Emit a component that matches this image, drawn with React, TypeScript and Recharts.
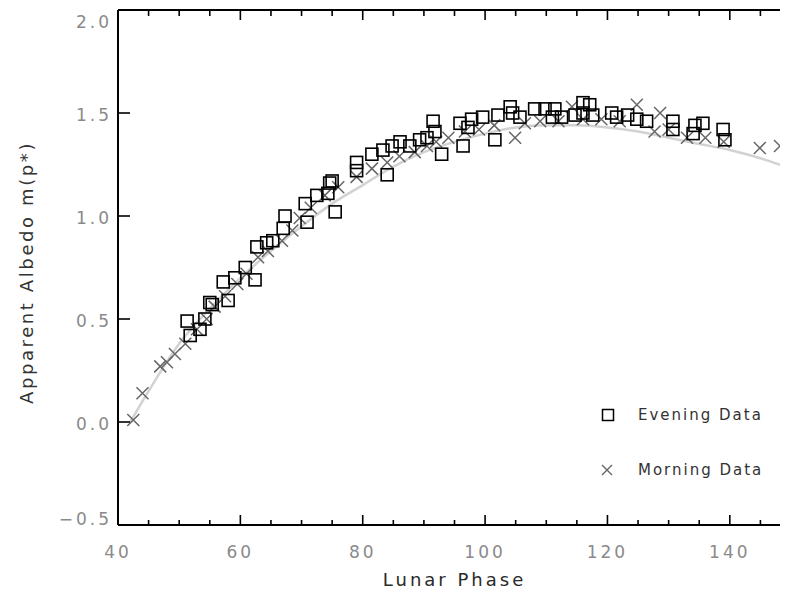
import React from 'react';
import { ComposedChart, Scatter, Line, XAxis, YAxis, Legend } from 'recharts';

const eveningPhase = [
  51.3, 51.8, 53.4, 54.2, 55.0, 55.4, 57.2, 58.0, 59.1, 60.8, 62.4, 62.7, 64.3, 65.3, 67.0, 67.3,
  70.6, 70.9, 72.5, 74.3, 74.6, 75.5, 75.0, 79.0, 79.0, 81.5, 83.3, 84.0, 84.8, 86.1, 87.7, 89.3,
  90.5, 91.5, 91.8, 92.9, 95.9, 96.4, 97.2, 97.8, 99.6, 101.6, 102.1, 104.1, 104.5, 105.7, 108.1,
  109.8, 111.4, 111.0, 112.5, 114.7, 116.0, 117.1, 116.0, 117.6, 120.7, 121.5, 123.3, 124.8, 126.4,
  130.7, 130.7, 134.0, 134.3, 135.6, 138.9, 139.2,
];
const eveningAlbedo = [
  0.49, 0.42, 0.45, 0.50, 0.58, 0.57, 0.68, 0.59, 0.70, 0.75, 0.69, 0.85, 0.87, 0.88, 0.94, 1.00,
  1.06, 0.97, 1.10, 1.11, 1.16, 1.02, 1.17, 1.26, 1.22, 1.30, 1.32, 1.20, 1.34, 1.36, 1.34, 1.37,
  1.38, 1.46, 1.41, 1.30, 1.45, 1.34, 1.43, 1.47, 1.48, 1.37, 1.49, 1.53, 1.50, 1.48, 1.52,
  1.52, 1.52, 1.48, 1.48, 1.49, 1.55, 1.54, 1.50, 1.49, 1.50, 1.48, 1.49, 1.47, 1.46,
  1.46, 1.42, 1.40, 1.44, 1.45, 1.42, 1.37,
];

const morningPhase = [
  42.5, 44.0, 46.9, 48.0, 49.3, 51.0, 52.9, 54.5, 55.8, 57.5, 59.5, 61.0, 62.9, 64.5, 66.8, 68.5,
  69.7, 71.5, 73.8, 76.0, 79.0, 81.5, 84.0, 86.0, 88.5, 90.5, 92.0, 94.0, 96.7, 99.0, 101.5, 104.9,
  106.5, 109.0, 112.0, 114.2, 116.0, 119.0, 122.0, 124.8, 127.7, 128.6, 130.0, 133.0, 136.0, 139.0,
  144.9, 148.2,
];
const morningAlbedo = [
  0.01, 0.14, 0.27, 0.29, 0.33, 0.38, 0.45, 0.50, 0.56, 0.61, 0.67, 0.72, 0.80, 0.83, 0.88, 0.93,
  0.99, 1.04, 1.10, 1.14, 1.19, 1.23, 1.26, 1.29, 1.31, 1.34, 1.36, 1.38, 1.41, 1.42, 1.44, 1.38,
  1.45, 1.46, 1.46, 1.53, 1.47, 1.47, 1.46, 1.54, 1.41, 1.50, 1.42, 1.38, 1.38, 1.36,
  1.33, 1.34,
];

const fitPhase = [42, 45, 50, 55, 60, 65, 70, 75, 80, 85, 90, 95, 100, 105, 110, 115, 120, 125, 130, 135, 140, 145, 150];
const fitAlbedo = [0.0, 0.15, 0.38, 0.55, 0.7, 0.83, 0.95, 1.06, 1.15, 1.24, 1.31, 1.36, 1.4, 1.43, 1.44, 1.44, 1.43, 1.41, 1.38, 1.35, 1.32, 1.28, 1.23];

const xTicks = [40, 45, 50, 55, 60, 65, 70, 75, 80, 85, 90, 95, 100, 105, 110, 115, 120, 125, 130, 135, 140, 145, 150];
const xMajorStep = 20;
const yTicks = [-0.5, 0, 0.5, 1.0, 1.5, 2.0];
const legendLabels = ['Evening Data', 'Morning Data'];
const xTitle = 'Lunar Phase';
const yTitle = 'Apparent Albedo m(p*)';

const evening = eveningPhase.map((x, i) => ({ x, y: eveningAlbedo[i] }));
const morning = morningPhase.map((x, i) => ({ x, y: morningAlbedo[i] }));
const fit = fitPhase.map((x, i) => ({ x, y: fitAlbedo[i] }));

const FONT = "'DejaVu Sans', sans-serif";
const TICK_COLOR = '#8a8a8a';

const SquareShape = (props: any) => {
  const { cx, cy } = props;
  if (cx == null || cy == null) return null;
  const s = 12;
  return <rect x={cx - s / 2} y={cy - s / 2} width={s} height={s} fill="none" stroke="#000" strokeWidth={1.6} />;
};

const CrossShape = (props: any) => {
  const { cx, cy } = props;
  if (cx == null || cy == null) return null;
  const h = 6;
  return (
    <path
      d={`M${cx - h},${cy - h}L${cx + h},${cy + h}M${cx + h},${cy - h}L${cx - h},${cy + h}`}
      stroke="#666"
      strokeWidth={1.5}
      fill="none"
    />
  );
};

const BottomTick = (props: any) => {
  const { x, y, payload } = props;
  const major = payload.value % xMajorStep === 0;
  return (
    <g>
      <line x1={x} x2={x} y1={y} y2={y - (major ? 10 : 5)} stroke="#000" strokeWidth={1.6} />
      {major && (
        <text x={x} y={y + 33} textAnchor="middle" fill={TICK_COLOR} fontSize={17} fontFamily={FONT} letterSpacing={3}>
          {payload.value}
        </text>
      )}
    </g>
  );
};

const TopTick = (props: any) => {
  const { x, y, payload } = props;
  const major = payload.value % xMajorStep === 0;
  return <line x1={x} x2={x} y1={y} y2={y + (major ? 10 : 6)} stroke="#000" strokeWidth={1.6} />;
};

const LeftTick = (props: any) => {
  const { x, y, payload } = props;
  const v = payload.value;
  let dy = 8;
  if (v === 2) dy = 18;
  if (v === -0.5) dy = 0;
  return (
    <g>
      <line x1={x} x2={x + 12} y1={y} y2={y} stroke="#000" strokeWidth={1.6} />
      <text x={x - 6} y={y + dy} textAnchor="end" fill={TICK_COLOR} fontSize={17} fontFamily={FONT} letterSpacing={3}>
        {v < 0 ? '\u2212' + Math.abs(v).toFixed(1) : v.toFixed(1)}
      </text>
    </g>
  );
};

const RightTick = (props: any) => {
  const { x, y } = props;
  return <line x1={x} x2={x - 11} y1={y} y2={y} stroke="#000" strokeWidth={1.6} />;
};

const XTitle = (props: any) => {
  const vb = props.viewBox || { x: 118, y: 525, width: 673 };
  return (
    <text x={vb.x + vb.width / 2} y={vb.y + 61} textAnchor="middle" fill="#2a2a2a" fontSize={18} fontFamily={FONT} letterSpacing={3}>
      {xTitle}
    </text>
  );
};

const YTitle = (props: any) => {
  const vb = props.viewBox || { x: 0, y: 10, height: 515 };
  const cx = vb.x + 26;
  const cy = vb.y + vb.height / 2 + 5;
  return (
    <text
      x={cx}
      y={cy}
      transform={`rotate(-90 ${cx} ${cy})`}
      textAnchor="middle"
      dominantBaseline="central"
      fill="#333"
      fontSize={18}
      fontFamily={FONT}
      letterSpacing={2.6}
    >
      {yTitle}
    </text>
  );
};

const LegendBox = () => (
  <svg width={190} height={90} style={{ display: 'block' }}>
    {legendLabels.map((label, i) => {
      const cy = 15 + i * 55;
      return (
        <g key={label}>
          {i === 0 ? (
            <rect x={7.5} y={cy - 5.5} width={11} height={11} fill="none" stroke="#000" strokeWidth={1.5} />
          ) : (
            <path d={`M7,${cy - 5}L17,${cy + 5}M17,${cy - 5}L7,${cy + 5}`} stroke="#666" strokeWidth={1.4} fill="none" />
          )}
          <text x={43} y={cy} dominantBaseline="central" fill="#333" fontSize={15} fontFamily={FONT} letterSpacing={2}>
            {label}
          </text>
        </g>
      );
    })}
  </svg>
);

export default function App() {
  return (
    <div style={{ margin: '-8px', width: 788, height: 595, overflow: 'hidden', background: '#fff' }}>
      <ComposedChart width={800} height={595} margin={{ top: 9, right: 8, bottom: 0, left: 0 }}>
        <XAxis
          dataKey="x"
          type="number"
          domain={[40, 150]}
          allowDataOverflow
          ticks={xTicks}
          interval={0}
          height={70}
          tickSize={0}
          tickMargin={0}
          tick={BottomTick}
          axisLine={{ stroke: '#000', strokeWidth: 2 }}
          tickLine={false}
          label={<XTitle />}
        />
        <XAxis
          xAxisId="top"
          orientation="top"
          dataKey="x"
          type="number"
          domain={[40, 150]}
          allowDataOverflow
          ticks={xTicks}
          interval={0}
          height={1}
          tickSize={0}
          tickMargin={0}
          tick={TopTick}
          axisLine={{ stroke: '#000', strokeWidth: 2 }}
          tickLine={false}
        />
        <YAxis
          dataKey="y"
          type="number"
          domain={[-0.5, 2]}
          allowDataOverflow
          ticks={yTicks}
          interval={0}
          width={118}
          tickSize={0}
          tickMargin={0}
          tick={LeftTick}
          axisLine={{ stroke: '#000', strokeWidth: 2 }}
          tickLine={false}
          label={<YTitle />}
        />
        <YAxis
          yAxisId="r"
          orientation="right"
          type="number"
          domain={[-0.5, 2]}
          allowDataOverflow
          ticks={yTicks}
          interval={0}
          width={1}
          tickSize={0}
          tickMargin={0}
          tick={RightTick}
          axisLine={{ stroke: '#000', strokeWidth: 2 }}
          tickLine={false}
        />
        <Line
          data={fit}
          dataKey="y"
          type="monotone"
          stroke="#d2d2d2"
          strokeWidth={2.5}
          dot={false}
          activeDot={false}
          isAnimationActive={false}
          legendType="none"
        />
        <Scatter data={morning} dataKey="y" name="Morning Data" shape={CrossShape} isAnimationActive={false} />
        <Scatter data={evening} dataKey="y" name="Evening Data" shape={SquareShape} isAnimationActive={false} />
        <Legend
          layout="vertical"
          align="center"
          verticalAlign="middle"
          content={<LegendBox />}
          wrapperStyle={{ position: 'absolute', left: 595, top: 400, width: 190, height: 90 }}
        />
      </ComposedChart>
    </div>
  );
}
